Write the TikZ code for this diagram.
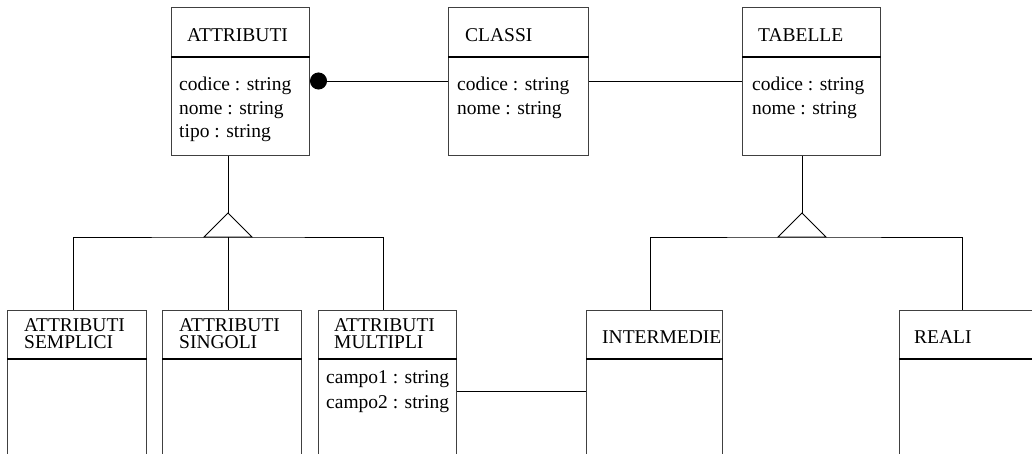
\documentclass[tikz,border=0pt]{standalone}
\usepackage{fontspec}
\setmainfont{Liberation Serif}
\usetikzlibrary{calc,arrows.meta}
\begin{document}
\begin{tikzpicture}[x=1pt,y=-1pt,
  umlbox/.style={draw=black!75,line width=1pt,inner sep=0pt,anchor=north west,minimum width=#1},
  divider/.style={line width=1.8pt},
  conn/.style={line width=0.9pt},
  lbl/.style={anchor=base west,inner sep=0pt,font=\fontsize{19.5}{23}\selectfont},
  lbl2/.style={anchor=north west,inner sep=0pt,align=left,font=\fontsize{19.5}{17.5}\selectfont}]
\useasboundingbox (0,0) rectangle (1032,454);

% upper classes
\node[umlbox=138pt,minimum height=148pt] (attr) at (171,7) {};
\node[umlbox=140pt,minimum height=148pt] (classi) at (448,7) {};
\node[umlbox=138pt,minimum height=148pt] (tab) at (742,7) {};
\foreach \b in {attr,classi,tab}
  \draw[divider] ($(\b.north west)+(0,50)$) -- ($(\b.north east)+(0,50)$);

\node[lbl] (attrT) at (187,42) {ATTRIBUTI};
\node[lbl] (classiT) at (465,42) {CLASSI};
\node[lbl] (tabT) at (758,42) {TABELLE};
\node[lbl] (a1) at (179,91) {codice : string};
\node[lbl] (a2) at (179,115) {nome : string};
\node[lbl] (a3) at (179,138) {tipo : string};
\node[lbl] (c1) at (457,91) {codice : string};
\node[lbl] (c2) at (457,115) {nome : string};
\node[lbl] (t1) at (752,91) {codice : string};
\node[lbl] (t2) at (752,115) {nome : string};

% lower classes
\node[umlbox=139pt,minimum height=165pt] (semp) at (7,310) {};
\node[umlbox=139pt,minimum height=165pt] (sing) at (162,310) {};
\node[umlbox=138pt,minimum height=165pt] (mult) at (318,310) {};
\node[umlbox=136pt,minimum height=165pt] (inter) at (586,310) {};
\node[umlbox=141pt,minimum height=165pt] (reali) at (899,310) {};
\foreach \b in {semp,sing,mult,inter,reali}
  \draw[divider] ($(\b.north west)+(0,49)$) -- ($(\b.north east)+(0,49)$);

\node[lbl2] (sempT) at (24,318) {ATTRIBUTI\\SEMPLICI};
\node[lbl2] (singT) at (179,318) {ATTRIBUTI\\SINGOLI};
\node[lbl2] (multT) at (334,318) {ATTRIBUTI\\MULTIPLI};
\node[lbl] (interT) at (602,343) {INTERMEDIE};
\node[lbl] (realiT) at (914,343) {REALI};
\node[lbl] (m1) at (326,383) {campo1 : string};
\node[lbl] (m2) at (326,408) {campo2 : string};

% associations
\draw[conn,{Circle[length=17pt,width=17pt]}-] ($(attr.north east)+(0,74)$) -- ($(classi.north west)+(0,74)$);
\draw[conn] ($(classi.north east)+(0,74)$) -- ($(tab.north west)+(0,74)$);
\draw[conn] ($(mult.north east)+(0,81)$) -- ($(inter.north west)+(0,81)$);

% generalization of ATTRIBUTI
\coordinate (gA) at ($(attr.south west)+(57,57)$);
\draw[conn] ($(attr.south west)+(57,0)$) -- (gA);
\draw[conn] (gA) -- ++(-24,24) -- ++(48,0) -- cycle;
\draw[conn] ($(semp.north west)+(66,0)$) |- ($(gA)+(0,24)$) -| ($(mult.north west)+(65,0)$);
\draw[conn] ($(gA)+(0,24)$) -- ($(sing.north west)+(66,0)$);

% generalization of TABELLE
\coordinate (gT) at ($(tab.south west)+(60,57)$);
\draw[conn] ($(tab.south west)+(60,0)$) -- (gT);
\draw[conn] (gT) -- ++(-24,24) -- ++(48,0) -- cycle;
\draw[conn] ($(inter.north west)+(64,0)$) |- ($(gT)+(0,24)$) -| ($(reali.north west)+(63,0)$);
\end{tikzpicture}
\end{document}
